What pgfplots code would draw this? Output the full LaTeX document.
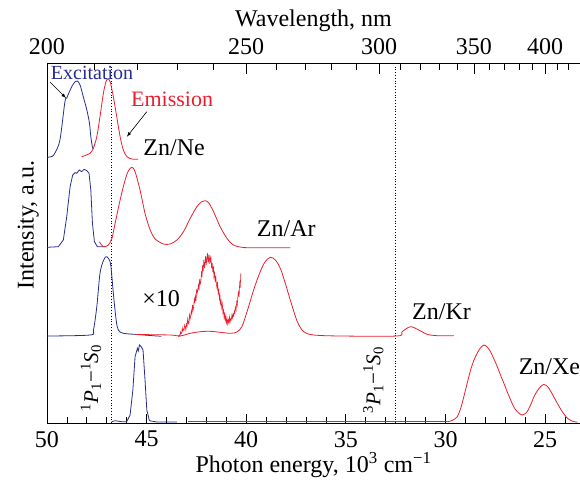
\documentclass[border=0pt]{standalone}
\usepackage{fontspec}
\setmainfont{Liberation Serif}
\usepackage{pgfplots}
\pgfplotsset{compat=1.18}
\usetikzlibrary{calc}
\definecolor{exblue}{RGB}{40,45,145}
\definecolor{emred}{RGB}{235,30,45}

\begin{document}
\fontsize{24}{28}\selectfont
\begin{tikzpicture}
\begin{axis}[
  scale only axis, width=533pt, height=360pt,
  xmin=23.25, xmax=50, x dir=reverse,
  ymin=0, ymax=360,
  axis x line*=bottom, axis y line*=left,
  axis line style={-, line width=0.8pt},
  ytick=\empty,
  xtick={25,30,...,50},
  minor xtick={24,...,49},
  tick align=inside,
  major tick length=9pt, minor tick length=6pt,
  tick style={black, line width=0.8pt},
  /pgf/number format/assume math mode=true,
  xlabel={Photon energy, 10\textsuperscript{3} cm\textsuperscript{−1}},
  xlabel style={yshift=11pt},
  ylabel={Intensity, a.u.},
  ylabel style={at={(rel axis cs:0,0.55)}, anchor=south},
  clip=false,
  every axis plot/.append style={line width=0.8pt},
]
\coordinate (SW) at (rel axis cs:0,0);
\coordinate (NE) at (rel axis cs:1,1);
% dotted lines
\addplot[black, dotted, line width=1pt] coordinates {(46.75,0) (46.75,358)};
\addplot[black, dotted, line width=1pt] coordinates {(32.5,0) (32.5,358)};

% Zn/Ne
\addplot[exblue, smooth] coordinates {
(50.00,265.7) (49.75,266.5) (49.60,270) (49.35,283) (49.10,321.3) (49.01,325)
(48.76,336.3) (48.59,341.3) (48.48,342) (48.34,338) (48.18,326.3) (48.00,313)
(47.87,300) (47.80,286.3) (47.72,276) (47.67,274)};
\addplot[emred, smooth] coordinates {
(48.26,266.3) (47.84,269.7) (47.67,275) (47.50,286.3) (47.34,306.3) (47.17,329.7)
(47.04,341.3) (46.95,344) (46.83,341.3) (46.67,326.3) (46.50,306.3) (46.33,286.3)
(46.17,273) (45.99,266.3) (45.74,264) (45.43,263.7)};

% Zn/Ar
\addplot[exblue] coordinates {
(50.00,175.7) (49.43,176.3) (49.18,183) (49.01,206.3) (48.84,236.3) (48.71,248)
(48.59,250.3) (48.51,249.7) (48.38,253) (48.26,251.3) (48.14,253.7) (48.00,252.3)
(47.89,249.7) (47.80,233) (47.72,200) (47.62,181.3) (47.47,176.3) (47.17,176.3)};
\addplot[emred, smooth] coordinates {
(47.37,181.3) (47.17,176.3) (46.92,178) (46.74,184.7) (46.58,199.7) (46.33,223)
(46.08,243) (45.91,252.3) (45.74,255.7) (45.58,251.3) (45.33,233) (45.08,209.7)
(44.82,193) (44.57,184) (44.16,179) (43.82,179) (43.48,183) (43.15,191.3)
(42.81,204.7) (42.48,216.3) (42.23,221.3) (42.06,222.3) (41.89,220.3) (41.64,211.3)
(41.31,196.3) (40.97,184.7) (40.64,178) (40.22,175.7) (39.80,175.3) (37.79,175.3)};

% Zn/Kr
\addplot[exblue, smooth] coordinates {
(50.00,87) (47.84,88) (47.67,93) (47.50,116.3) (47.34,149.7) (47.17,162.3)
(47.04,166.3) (46.92,164.7) (46.80,158) (46.67,129.7) (46.53,103) (46.42,93)
(46.17,89.7) (45.33,88.3) (44.49,87) (44.42,87)};
\addplot[emred, smooth] coordinates {
(45.58,88.5) (43.82,88) (43.32,87) (42.81,89.7) (42.31,91.3) (41.81,91.7)
(41.31,90.7) (40.80,89.7) (40.47,91) (40.22,96.3) (39.96,111.3) (39.63,133)
(39.30,151.3) (39.05,161.3) (38.79,165.7) (38.54,163) (38.29,154.7) (38.04,139.7)
(37.79,123) (37.45,102) (37.12,91.3) (36.62,88) (35.28,87) (32.43,87)
(32.18,91.3) (31.76,96.3) (31.34,93) (30.92,88.7) (30.42,87.3) (29.58,87.3)};
\addplot[emred, line width=0.6pt] coordinates {
(43.40,86) (43.36,88) (43.33,87) (43.30,91) (43.27,89) (43.24,90) (43.21,95)
(43.18,92) (43.15,94) (43.12,93) (43.09,98) (43.06,96) (43.03,93) (43.00,99)
(42.97,97) (42.94,104) (42.91,100) (42.88,99) (42.85,108) (42.82,104) (42.79,107)
(42.76,112) (42.73,109) (42.70,118) (42.67,113) (42.64,116) (42.61,124) (42.58,121)
(42.55,127) (42.52,122) (42.49,134) (42.46,130) (42.43,133) (42.40,138) (42.37,133)
(42.34,144) (42.31,139) (42.28,141) (42.25,150) (42.22,146) (42.19,158) (42.16,152)
(42.13,163) (42.10,155) (42.07,160) (42.04,167) (42.01,158) (41.98,164) (41.95,170)
(41.92,161) (41.89,166) (41.86,159) (41.83,168) (41.80,162) (41.77,165) (41.74,155)
(41.71,160) (41.68,151) (41.65,157) (41.62,146) (41.59,150) (41.56,141) (41.53,147)
(41.50,139) (41.47,135) (41.44,141) (41.41,130) (41.38,133) (41.35,124) (41.32,128)
(41.29,119) (41.26,122) (41.23,115) (41.20,119) (41.17,110) (41.14,113) (41.11,105)
(41.08,109) (41.05,103) (41.02,107) (40.99,100) (40.96,104) (40.93,99) (40.90,103)
(40.87,100) (40.84,106) (40.81,101) (40.78,104) (40.75,103) (40.72,108) (40.69,105)
(40.66,109) (40.63,107) (40.60,112) (40.57,110) (40.54,116) (40.51,113) (40.48,121)
(40.45,118) (40.42,127) (40.39,131) (40.36,126) (40.33,140) (40.30,137) (40.27,150)};

% Zn/Xe
\addplot[exblue] coordinates {
(46.75,1.3) (46.58,2.3) (46.25,1.3) (46.00,1.3) (45.83,8) (45.69,33) (45.58,66.3)
(45.46,74.7) (45.42,72) (45.36,78) (45.27,76.3) (45.18,73) (45.08,43) (44.99,13)
(44.86,2.3) (44.49,1) (43.48,1)};
\addplot[emred] coordinates {(42.91,1.3) (29.95,1.3)};
\addplot[emred, smooth] coordinates {
(29.95,1.3) (29.83,1.5) (29.62,3) (29.41,6.3) (29.25,14) (29.08,26.3) (28.91,40) (28.74,53)
(28.57,63) (28.41,69.7) (28.25,75) (28.08,78)
(27.91,76) (27.74,71.3) (27.57,64) (27.40,56.3) (27.24,48) (27.07,39.7) (26.90,31) (26.73,23)
(26.57,16) (26.40,11.3) (26.27,9) (26.15,8) (26.02,9) (25.90,11.3) (25.73,18)
(25.56,26.3) (25.40,32) (25.23,36.3) (25.06,38.7) (24.94,37.5) (24.81,34.7) (24.60,27.5) (24.39,19.7)
(24.13,11) (23.88,4.7) (23.63,1.8) (23.38,0.8)};

% labels
\node[exblue, font=\fontsize{20}{24}\selectfont] at (axis cs:47.74,350) {Excitation};
\draw[-latex, line width=0.6pt] (axis cs:49.85,341) -- (axis cs:49.05,325);
\node[emred, font=\fontsize{22}{26}\selectfont] at (axis cs:43.72,323.5) {Emission};
\draw[-latex, line width=0.6pt] (axis cs:44.99,311.3) -- (axis cs:45.99,286.3);
\node at (axis cs:43.62,275) {Zn/Ne};
\node at (axis cs:37.99,194) {Zn/Ar};
\node at (axis cs:30.20,111) {Zn/Kr};
\node[anchor=west, inner sep=0pt] at (axis cs:26.33,56) {Zn/Xe};
\node at (axis cs:44.27,124) {×10};
\node[rotate=90, font=\fontsize{21}{25}\selectfont] at (axis cs:47.79,45)
  {\textsuperscript{1}\textit{P}\textsubscript{1}−\textsuperscript{1}\textit{S}\textsubscript{0}};
\node[rotate=90, font=\fontsize{21}{25}\selectfont] at (axis cs:33.62,43)
  {\textsuperscript{3}\textit{P}\textsubscript{1}−\textsuperscript{1}\textit{S}\textsubscript{0}};
\end{axis}
\begin{axis}[
  scale only axis, width=533pt, height=360pt,
  xmin=23.25, xmax=50, x dir=reverse, ymin=0, ymax=360,
  axis x line*=top, axis y line=none,
  axis line style={-, line width=0.8pt},
  ytick=\empty,
  xtick={50,40,33.3333,28.5714,25},
  xticklabels={200,250,300,350,400},
  minor xtick={47.619,45.455,43.478,41.667,38.462,37.037,35.714,34.483,32.258,31.25,30.303,29.412,27.778,27.027,26.316,25.641,24.390,23.810},
  tick align=inside,
  major tick length=11pt, minor tick length=7pt,
  tick style={black, line width=0.8pt},
  xlabel={Wavelength, nm},
  xlabel style={yshift=-9pt},
]
\addplot[draw=none] coordinates {(30,100)};
\end{axis}
\pgfresetboundingbox
\path ($(SW)+(-47pt,-58pt)$) rectangle ($(NE)+(0pt,63pt)$);
\end{tikzpicture}
\end{document}
